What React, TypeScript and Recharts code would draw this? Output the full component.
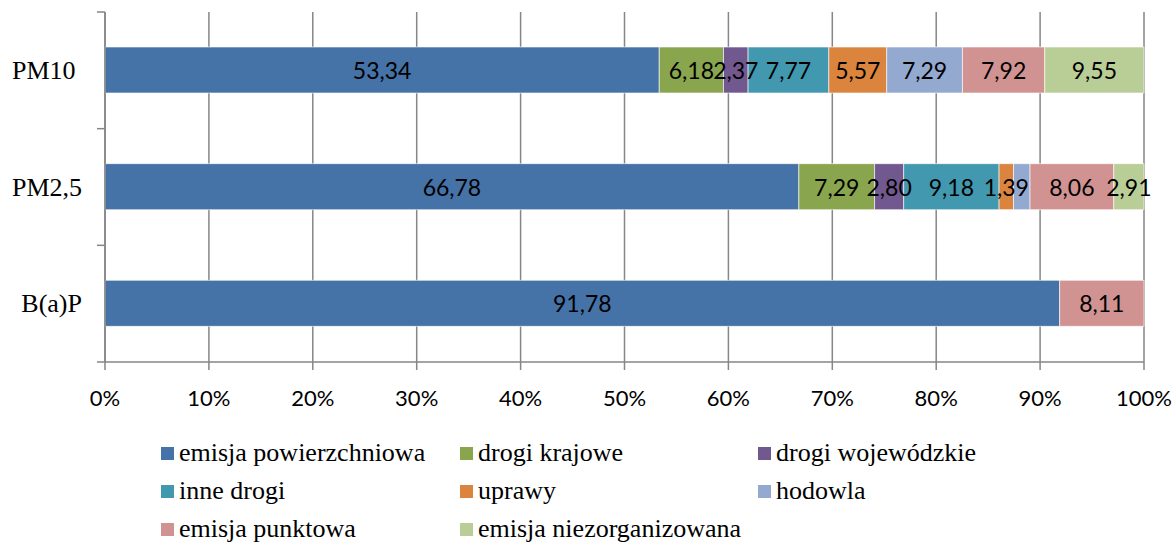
import React from "react";
import { Bar, BarChart, CartesianGrid, LabelList, XAxis, YAxis } from "recharts";

// categories (top to bottom)
const categories = ["PM10 ", "PM2,5", "B(a)P"];

// series values, one per category
const emisjaPowierzchniowa = [53.34, 66.78, 91.78];
const drogiKrajowe = [6.18, 7.29, 0];
const drogiWojewodzkie = [2.37, 2.8, 0];
const inneDrogi = [7.77, 9.18, 0];
const uprawy = [5.57, 1.39, 0];
const hodowla = [7.29, 1.59, 0];
const emisjaPunktowa = [7.92, 8.06, 8.11];
const emisjaNiezorganizowana = [9.55, 2.91, 0];

const seriesNames = [
  "emisja powierzchniowa",
  "drogi krajowe",
  "drogi wojewódzkie",
  "inne drogi",
  "uprawy",
  "hodowla",
  "emisja punktowa",
  "emisja niezorganizowana",
];
const seriesValues = [
  emisjaPowierzchniowa,
  drogiKrajowe,
  drogiWojewodzkie,
  inneDrogi,
  uprawy,
  hodowla,
  emisjaPunktowa,
  emisjaNiezorganizowana,
];
const colors = [
  "#4572A7",
  "#89A54E",
  "#71588F",
  "#4198AF",
  "#DB843D",
  "#93A9CF",
  "#D19392",
  "#B9CD96",
];

// labels not printed in the original ("series|category")
const hiddenLabels = ["hodowla|PM2,5"];

const xTicks = [0, 0.1, 0.2, 0.3, 0.4, 0.5, 0.6, 0.7, 0.8, 0.9, 1];

const data = categories.map((name, i) => {
  const row: Record<string, string | number> = { name };
  seriesValues.forEach((vals, s) => {
    row[`s${s}`] = vals[i];
  });
  return row;
});

const numFont = "Lato, sans-serif";
const serifFont = "Liberation Serif, Times New Roman, serif";

function CategoryTick(props: any) {
  const { x, y, payload, index, visibleTicksCount } = props;
  const half = payload?.offset ?? 58;
  const last = index === (visibleTicksCount ?? 3) - 1;
  return (
    <g>
      <line x1={97} x2={105} y1={y - half} y2={y - half} stroke="#868686" strokeWidth={1.5} />
      {last && <line x1={97} x2={105} y1={y + half} y2={y + half} stroke="#868686" strokeWidth={1.5} />}
      <text
        x={x}
        y={y}
        textAnchor="end"
        dominantBaseline="central"
        style={{ fontFamily: serifFont, fontSize: 26, whiteSpace: "pre" }}
        fill="#000"
      >
        {payload.value}
      </text>
    </g>
  );
}

function makeLabel(s: number) {
  return (props: any) => {
    const { x, y, width, height, value, index } = props;
    if (!value) return null;
    if (hiddenLabels.includes(`${seriesNames[s]}|${categories[index].trim()}`)) return null;
    return (
      <text
        x={x + width / 2}
        y={y + height / 2}
        textAnchor="middle"
        dominantBaseline="central"
        style={{ fontFamily: numFont, fontSize: 23 }}
        fill="#000"
      >
        {Number(value).toFixed(2).replace(".", ",")}
      </text>
    );
  };
}

export default function App() {
  return (
    <div style={{ position: "absolute", left: 0, top: 0, width: 1176, height: 555, background: "#fff" }}>
      <BarChart
        width={1176}
        height={430}
        data={data}
        layout="vertical"
        stackOffset="expand"
        barSize={46}
        margin={{ top: 12, right: 32, bottom: 0, left: 0 }}
      >
        <CartesianGrid horizontal={false} vertical stroke="#868686" strokeWidth={1.5} />
        <XAxis
          type="number"
          domain={[0, 1]}
          ticks={xTicks}
          tickFormatter={(v: number) => `${Math.round(v * 100)}%`}
          height={68}
          tickSize={8}
          tickMargin={20}
          axisLine={{ stroke: "#868686", strokeWidth: 1.5 }}
          tickLine={{ stroke: "#868686", strokeWidth: 1.5 }}
          tick={{ fontFamily: numFont, fontSize: 22, fill: "#000" }}
          interval={0}
        />
        <YAxis
          type="category"
          dataKey="name"
          width={105}
          tickSize={8}
          tickMargin={15}
          tickLine={false}
          axisLine={{ stroke: "#868686", strokeWidth: 1.5 }}
          tick={<CategoryTick />}
        />
        {seriesNames.map((name, s) => (
          <Bar
            key={name}
            dataKey={`s${s}`}
            name={name}
            stackId="a"
            fill={colors[s]}
            stroke="rgba(255,255,255,0.6)"
            strokeWidth={1}
            isAnimationActive={false}
          >
            <LabelList dataKey={`s${s}`} content={makeLabel(s)} />
          </Bar>
        ))}
      </BarChart>
      <div
        style={{
          position: "absolute",
          left: 161,
          top: 434,
          display: "grid",
          gridTemplateColumns: "299px 298px 300px",
          fontFamily: serifFont,
          fontSize: 26,
        }}
      >
        {seriesNames.map((name, s) => (
          <div key={name} style={{ display: "flex", alignItems: "center", height: 38, whiteSpace: "nowrap" }}>
            <span style={{ width: 13, height: 13, background: colors[s], marginRight: 5, display: "inline-block" }} />
            <span>{name}</span>
          </div>
        ))}
      </div>
    </div>
  );
}
